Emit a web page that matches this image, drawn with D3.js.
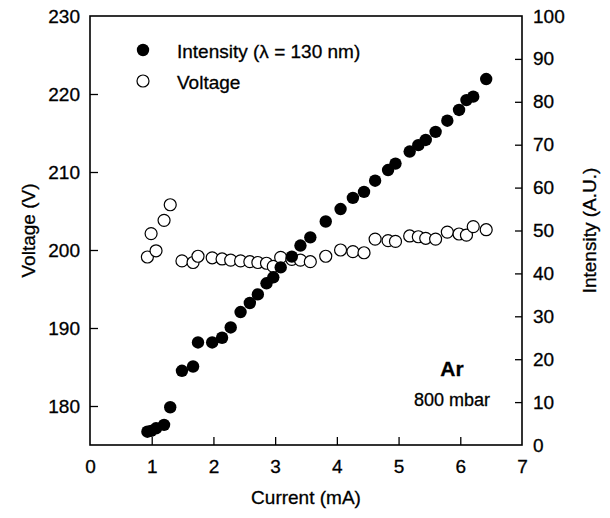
<!DOCTYPE html>
<html>
<meta charset="utf-8">
<style>
	body { margin:0; padding:0; background:#fff; }
	svg { font-family: "Liberation Sans", Arial, sans-serif; }
	text { stroke:#000; stroke-width:0.3px; }
	.axis path { display:none; }
	.axis line { stroke:#000; stroke-width:1.3px; }
	.axis text { font-size:19px; fill:#000; font-family:"Liberation Sans", Arial, sans-serif; }
</style>
<body>
<svg id="chart" width="610" height="518"></svg>
<script src="https://cdn.jsdelivr.net/npm/d3@7/dist/d3.min.js"></script>
<script>
// current (mA), shared by both series
var current = [0.93,0.99,1.07,1.20,1.30,1.49,1.67,1.75,1.98,2.14,2.28,2.44,2.59,2.72,2.86,2.97,3.09,3.27,3.41,3.57,3.82,4.06,4.26,4.44,4.62,4.83,4.95,5.18,5.32,5.44,5.60,5.79,5.98,6.10,6.21,6.42];
var intensity = [3.1,3.3,3.9,4.7,8.8,17.3,18.3,23.9,23.9,25.0,27.4,31.0,33.1,35.1,37.7,39.1,41.4,43.9,46.5,48.4,52.1,55.0,57.6,59.0,61.6,64.1,65.6,68.4,69.9,71.1,73.0,75.6,78.1,80.4,81.2,85.3];
var voltage = [199.1,202.1,199.9,203.8,205.8,198.6,198.4,199.2,199.0,198.85,198.7,198.6,198.5,198.4,198.3,197.9,199.05,198.8,198.7,198.5,199.2,200.0,199.8,199.65,201.4,201.2,201.1,201.8,201.7,201.5,201.4,202.3,202.05,201.9,203.0,202.6];

var xTicks = [0,1,2,3,4,5,6,7];
var vTicks = [180,190,200,210,220,230];
var iTicks = [0,10,20,30,40,50,60,70,80,90,100];
var legendLabels = ["Intensity (\u03bb = 130 nm)", "Voltage"];

var svg = d3.select("#chart"),
	margin = {top: 16, right: 88, bottom: 73, left: 90},
	width = 610 - margin.left - margin.right,
	height = 518 - margin.top - margin.bottom,
	g = svg.append("g").attr("transform", "translate(" + margin.left + "," + margin.top + ")");

var x = d3.scaleLinear().domain([0, 7]).range([0, width]),
	yV = d3.scaleLinear().domain([175, 230]).range([height, 0]),
	yI = d3.scaleLinear().domain([0, 100]).range([height, 0]);

// axes, ticks pointing inward
g.append("g")
	.attr("class", "axis")
	.attr("transform", "translate(0," + height + ")")
	.call(d3.axisBottom(x).tickValues(xTicks).tickFormat(d3.format("d")).tickSize(-8).tickPadding(15))
	.selectAll("line").filter(function(d) { return d == 0 || d == 7; }).remove();

g.append("g")
	.attr("class", "axis")
	.call(d3.axisLeft(yV).tickValues(vTicks).tickSize(-8).tickPadding(10))
	.selectAll("line").filter(function(d) { return d == 230; }).remove();

g.append("g")
	.attr("class", "axis")
	.attr("transform", "translate(" + width + ",0)")
	.call(d3.axisRight(yI).tickValues(iTicks).tickSize(-7).tickPadding(11))
	.selectAll("line").filter(function(d) { return d == 0 || d == 100; }).remove();

// frame
g.append("rect")
	.attr("width", width)
	.attr("height", height)
	.attr("fill", "none")
	.attr("stroke", "#000")
	.attr("stroke-width", 1.6);

// axis titles
svg.append("text")
	.attr("x", margin.left + width / 2)
	.attr("y", 504)
	.attr("text-anchor", "middle")
	.style("font-size", "19px")
	.text("Current (mA)");

svg.append("text")
	.attr("transform", "translate(35," + (margin.top + height / 2) + ") rotate(-90)")
	.attr("text-anchor", "middle")
	.style("font-size", "19px")
	.text("Voltage (V)");

svg.append("text")
	.attr("transform", "translate(596," + (margin.top + height / 2) + ") rotate(-90)")
	.attr("text-anchor", "middle")
	.style("font-size", "19px")
	.text("Intensity (A.U.)");

// voltage: open circles
g.selectAll(".vdot")
	.data(current)
  .enter().append("circle")
	.attr("class", "vdot")
	.attr("r", 6)
	.attr("cx", function(d) { return x(d); })
	.attr("cy", function(d, i) { return yV(voltage[i]); })
	.attr("fill", "#fff")
	.attr("stroke", "#000")
	.attr("stroke-width", 1.2);

// intensity: filled circles
g.selectAll(".idot")
	.data(current)
  .enter().append("circle")
	.attr("class", "idot")
	.attr("r", 6.2)
	.attr("cx", function(d) { return x(d); })
	.attr("cy", function(d, i) { return yI(intensity[i]); })
	.attr("fill", "#000");

// legend
var leg = svg.append("g");
leg.append("circle").attr("cx", 143).attr("cy", 50).attr("r", 6.2).attr("fill", "#000");
leg.append("circle").attr("cx", 143).attr("cy", 81).attr("r", 6).attr("fill", "#fff").attr("stroke", "#000").attr("stroke-width", 1.2);
leg.selectAll(".ltext")
	.data(legendLabels)
  .enter().append("text")
	.attr("x", 177)
	.attr("y", function(d, i) { return 51 + i * 31; })
	.attr("dy", "0.35em")
	.style("font-size", "19px")
	.text(function(d) { return d; });

// annotation
svg.append("text")
	.attr("x", 452).attr("y", 369).attr("dy", "0.35em")
	.attr("text-anchor", "middle")
	.style("font-size", "21px").style("font-weight", "bold")
	.text("Ar");
svg.append("text")
	.attr("x", 452).attr("y", 400).attr("dy", "0.35em")
	.attr("text-anchor", "middle")
	.style("font-size", "18px")
	.text("800 mbar");
</script>
</body>
</html>
